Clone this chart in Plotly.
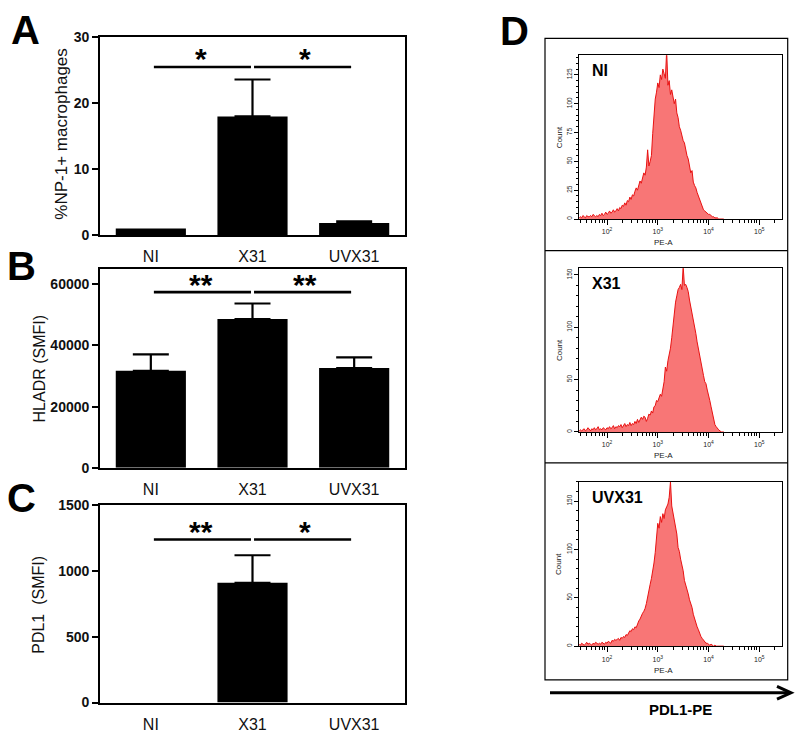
import plotly.graph_objects as go

W, H = 800, 737
FONT = "Arial, Liberation Sans, sans-serif"

# ---------------- data: bar panels ----------------
CATEGORIES = ["NI", "X31", "UVX31"]

NP1_MEAN = [1.0, 18.0, 1.8]          # %NP-1+ macrophages
NP1_SEM = [0.0, 5.6, 0.25]
NP1_TICKS = [0, 10, 20, 30]
NP1_SIG_LEVEL = 25.5
NP1_SIG_LABELS = ["*", "*"]

HLADR_MEAN = [31700, 48600, 32600]   # HLADR (SMFI)
HLADR_SEM = [5400, 5100, 3500]
HLADR_TICKS = [0, 20000, 40000, 60000]
HLADR_SIG_LEVEL = 57400
HLADR_SIG_LABELS = ["**", "**"]

PDL1_MEAN = [0, 910, 0]              # PDL1 (SMFI)
PDL1_SEM = [0, 210, 0]
PDL1_TICKS = [0, 500, 1000, 1500]
PDL1_SIG_LEVEL = 1240
PDL1_SIG_LABELS = ["**", "*"]

# ---------------- data: flow histograms (PE-A, log10 bins) ----------------
BIN_LOG_START = 1.45
BIN_LOG_STEP = 0.025
N_BINS = 115
PE_A = [10 ** (BIN_LOG_START + BIN_LOG_STEP * i) for i in range(N_BINS)]

COUNT_NI = [
    1, 2, 1, 3, 2, 1, 3, 2, 2, 3,
    2, 4, 3, 2, 3, 2, 4, 3, 5, 3,
    4, 6, 4, 5, 7, 5, 6, 8, 6, 7,
    9, 7, 10, 9, 12, 11, 14, 12, 16, 15,
    19, 17, 21, 20, 24, 27, 25, 30, 33, 31,
    37, 40, 38, 45, 60, 46, 50, 55, 74, 92,
    104, 110, 118, 114, 125, 121, 130, 126, 122, 146,
    116, 120, 108, 112, 104, 100, 104, 92, 88, 80,
    77, 72, 68, 66, 60, 55, 52, 45, 40, 42,
    32, 29, 27, 23, 20, 17, 14, 10, 8, 7,
    6, 5, 4, 4, 3, 2, 2, 1, 1, 1,
    0, 0, 0, 0, 0,
]
COUNT_X31 = [
    1, 2, 1, 2, 3, 1, 2, 4, 2, 1,
    3, 2, 4, 2, 3, 5, 2, 3, 2, 4,
    3, 2, 4, 3, 5, 3, 4, 6, 3, 5,
    4, 6, 5, 7, 4, 6, 8, 5, 7, 6,
    9, 6, 8, 7, 10, 8, 12, 9, 11, 14,
    12, 15, 14, 10, 13, 17, 16, 20, 18, 24,
    25, 30, 29, 33, 36, 34, 40, 48, 62, 58,
    68, 74, 80, 90, 104, 116, 124, 130, 136, 138,
    141, 136, 158, 140, 141, 138, 134, 126, 120, 112,
    106, 100, 94, 86, 79, 74, 64, 58, 54, 48,
    46, 40, 36, 30, 24, 18, 12, 7, 5, 3,
    2, 1, 0, 0, 0,
]
COUNT_UVX31 = [
    2, 1, 3, 2, 1, 2, 4, 2, 3, 2,
    1, 3, 2, 4, 3, 2, 3, 2, 4, 3,
    2, 4, 3, 5, 4, 3, 6, 5, 7, 6,
    7, 8, 6, 9, 8, 10, 9, 12, 11, 14,
    16, 15, 18, 17, 20, 19, 24, 26, 28, 32,
    34, 36, 39, 44, 52, 60, 64, 70, 77, 86,
    97, 110, 127, 122, 134, 128, 137, 132, 141, 144,
    147, 154, 170, 145, 138, 130, 122, 116, 102, 98,
    90, 84, 78, 68, 64, 58, 54, 48, 44, 40,
    33, 28, 25, 20, 17, 13, 10, 8, 6, 4,
    3, 3, 2, 1, 2, 1, 0, 1, 0, 0,
    0, 0, 0, 0, 0,
]
HIST_LABELS = ["NI", "X31", "UVX31"]
HIST_YMAX = [142, 156.4, 170]
HIST_YTICKS = [[0, 25, 50, 75, 100, 125], [0, 50, 100, 150], [0, 50, 100, 150]]
HIST_YMINOR = [5, 10, 10]
PE_TICKS = [100, 1000, 10000, 100000]
PE_TICKTEXT = ["10<sup>2</sup>", "10<sup>3</sup>", "10<sup>4</sup>", "10<sup>5</sup>"]


def px(x):
    return x / W


def py(y):
    return 1 - y / H


fig = go.Figure()

# ---------------- bar panels A, B, C ----------------
bar_panels = [
    ("x", "y", NP1_MEAN, NP1_SEM, [0, 30], NP1_TICKS, (30, 232),
     NP1_SIG_LEVEL, NP1_SIG_LABELS, "%NP-1+ macrophages", (62, 128.5), 17),
    ("x2", "y2", HLADR_MEAN, HLADR_SEM, [0, 65000], HLADR_TICKS, (266.7, 470),
     HLADR_SIG_LEVEL, HLADR_SIG_LABELS, "HLADR (SMFI)", (39.5, 369), 16),
    ("x3", "y3", PDL1_MEAN, PDL1_SEM, [0, 1500], PDL1_TICKS, (508.3, 710),
     PDL1_SIG_LEVEL, PDL1_SIG_LABELS, "PDL1  (SMFI)", (39, 610), 16),
]

annotations = []
shapes = []
for i, (xa, ya, mean, sem, yr, yt, (top, bot), sig, sig_lab, title, (tx, ty), tfs) in enumerate(bar_panels):
    pos = list(range(len(CATEGORIES)))
    fig.add_trace(go.Bar(
        x=pos, y=mean, width=0.69, xaxis=xa, yaxis=ya,
        marker=dict(color="black", line=dict(width=0)),
        showlegend=False, hoverinfo="skip",
    ))
    # upper-only error bars (drawn only where an error exists)
    ex = [p for p, s in zip(pos, sem) if s > 0]
    ey = [m for m, s in zip(mean, sem) if s > 0]
    es = [s for s in sem if s > 0]
    fig.add_trace(go.Scatter(
        x=ex, y=ey, xaxis=xa, yaxis=ya, mode="markers",
        marker=dict(size=1, color="black"),
        error_y=dict(type="data", symmetric=False, array=es, arrayminus=[0] * len(es),
                     color="black", thickness=2.2, width=18),
        showlegend=False, hoverinfo="skip", cliponaxis=False,
    ))
    xkey = "xaxis" if xa == "x" else "xaxis" + xa[1:]
    ykey = "yaxis" if ya == "y" else "yaxis" + ya[1:]
    fig.layout[xkey] = dict(
        domain=[px(100), px(405)], range=[-0.5, 2.5], anchor=ya,
        tickvals=pos, ticktext=CATEGORIES, ticks="", ticklabelstandoff=6,
        tickfont=dict(family=FONT, size=16, color="#111"),
        showline=True, mirror=True, linecolor="black", linewidth=1.8,
        showgrid=False, zeroline=False, fixedrange=True,
    )
    fig.layout[ykey] = dict(
        domain=[py(bot), py(top)], range=yr, anchor=xa,
        tickvals=yt, ticktext=[str(v) for v in yt], ticks="outside", ticklen=6,
        tickwidth=1.8, tickcolor="black",
        tickfont=dict(family=FONT, size=14, color="#111", weight="bold"),
        showline=True, mirror=True, linecolor="black", linewidth=1.8,
        showgrid=False, zeroline=False, fixedrange=True,
    )
    # significance bars
    for j, (x0, x1, xc) in enumerate([(0.03, 0.985, 0.49), (1.015, 1.97, 1.52)]):
        shapes.append(dict(type="line", xref=xa, yref=ya, x0=x0, x1=x1, y0=sig, y1=sig,
                           line=dict(color="black", width=2.6)))
        annotations.append(dict(xref=xa, yref=ya, x=xc, y=sig, text="<b>%s</b>" % sig_lab[j],
                                showarrow=False, xanchor="center", yanchor="middle", yshift=8,
                                font=dict(family=FONT, size=30, color="black")))
    annotations.append(dict(xref="paper", yref="paper", x=px(tx), y=py(ty), text=title,
                            textangle=-90, showarrow=False, xanchor="center", yanchor="middle",
                            font=dict(family=FONT, size=tfs, color="#111")))

# panel letters
for lab, (lx, ly) in zip(["A", "B", "C", "D"], [(25, 22.5), (21, 263.5), (21, 501), (514, 23)]):
    annotations.append(dict(xref="paper", yref="paper", x=px(lx), y=py(ly), text="<b>%s</b>" % lab,
                            showarrow=False, xanchor="center", yanchor="middle",
                            font=dict(family=FONT, size=40, color="black")))

# ---------------- histogram panels D ----------------
hist_frames = [(48.3, 215.7), (266, 433.3), (484.3, 652.3)]
counts_all = [COUNT_NI, COUNT_X31, COUNT_UVX31]
minor_x = [m * 10 ** d for d in range(1, 6) for m in range(2, 10) if 28 < m * 10 ** d < 290000]
for k in range(3):
    xa = "x%d" % (k + 4)
    ya = "y%d" % (k + 4)
    top, bot = hist_frames[k]
    fig.add_trace(go.Scatter(
        x=PE_A, y=counts_all[k], xaxis=xa, yaxis=ya, mode="lines",
        line=dict(color="rgb(232,18,18)", width=1), fill="tozeroy",
        fillcolor="rgb(248,118,118)", showlegend=False, hoverinfo="skip",
    ))
    fig.layout["xaxis%d" % (k + 4)] = dict(
        domain=[px(579.3), px(782.3)], type="log", range=[1.454, 5.453], anchor=ya,
        tickvals=PE_TICKS, ticktext=PE_TICKTEXT, ticks="outside", ticklen=5, tickwidth=1,
        tickcolor="black", ticklabelstandoff=1,
        minor=dict(tickvals=minor_x, ticks="outside", ticklen=3, tickwidth=1, tickcolor="black"),
        tickfont=dict(family=FONT, size=7, color="#222"),
        showline=True, mirror=True, linecolor="black", linewidth=1,
        showgrid=False, zeroline=False, fixedrange=True,
    )
    fig.layout["yaxis%d" % (k + 4)] = dict(
        domain=[py(bot), py(top)], range=[0, HIST_YMAX[k]], anchor=xa,
        tickvals=HIST_YTICKS[k], ticks="outside", ticklen=4, tickwidth=1, tickcolor="black",
        tickangle=-90, minor=dict(dtick=HIST_YMINOR[k], ticks="outside", ticklen=2,
                                  tickwidth=1, tickcolor="black"),
        tickfont=dict(family=FONT, size=6.5, color="#222"),
        showline=True, mirror=True, linecolor="black", linewidth=1,
        showgrid=False, zeroline=False, fixedrange=True,
    )
    annotations.append(dict(xref="paper", yref="paper", x=px(590), y=py(top + 16),
                            text="<b>%s</b>" % HIST_LABELS[k], showarrow=False,
                            xanchor="left", yanchor="middle",
                            font=dict(family=FONT, size=16, color="black")))
    annotations.append(dict(xref="paper", yref="paper", x=px(559), y=py((top + bot) / 2),
                            text="Count", textangle=-90, showarrow=False,
                            xanchor="center", yanchor="middle",
                            font=dict(family=FONT, size=8, color="#222")))
    annotations.append(dict(xref="paper", yref="paper", x=px(663), y=py(bot + 24.5),
                            text="PE-A", showarrow=False, xanchor="center", yanchor="middle",
                            font=dict(family=FONT, size=8, color="#222")))

# outer box of D and its dividers
shapes.append(dict(type="rect", xref="paper", yref="paper", x0=px(545), x1=px(787.7),
                   y0=py(686.7), y1=py(31), line=dict(color="black", width=1.2)))
for yd in (248, 465):
    shapes.append(dict(type="line", xref="paper", yref="paper", x0=px(545), x1=px(787.7),
                       y0=py(yd), y1=py(yd), line=dict(color="black", width=1.2)))
# arrow
shapes.append(dict(type="line", xref="paper", yref="paper", x0=px(550), x1=px(789),
                   y0=py(700), y1=py(700), line=dict(color="black", width=3)))
shapes.append(dict(type="path", xref="paper", yref="paper",
                   path="M %f %f L %f %f L %f %f" % (px(777), py(693.5), px(791), py(700), px(777), py(706.5)),
                   line=dict(color="black", width=3)))
annotations.append(dict(xref="paper", yref="paper", x=px(680), y=py(717), text="<b>PDL1-PE</b>",
                        showarrow=False, xanchor="center", yanchor="middle",
                        font=dict(family=FONT, size=15, color="black")))

fig.update_layout(
    width=W, height=H, margin=dict(l=0, r=0, t=0, b=0),
    paper_bgcolor="white", plot_bgcolor="white",
    annotations=annotations, shapes=shapes, showlegend=False,
    font=dict(family=FONT),
)

fig.write_html("out.html", post_script="document.body.style.margin='0';",
               config={"displayModeBar": False})
